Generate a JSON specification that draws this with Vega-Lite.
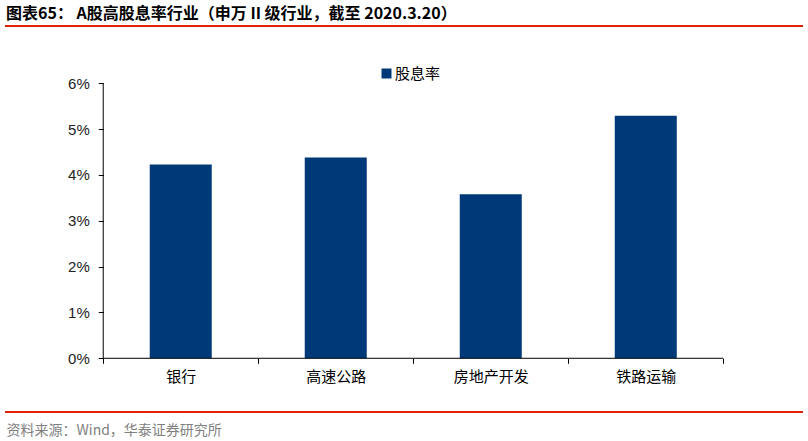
{
  "$schema": "https://vega.github.io/schema/vega-lite/v6.json",
  "width": 798,
  "height": 386,
  "autosize": {"type": "none"},
  "padding": {"left": 5, "top": 26, "right": 5, "bottom": 29},
  "background": "white",
  "title": {
    "text": "图表65： A股高股息率行业（申万 II 级行业，截至 2020.3.20）",
    "anchor": "start",
    "frame": "group",
    "offset": 4,
    "dx": 1,
    "font": "Noto Sans CJK SC",
    "fontSize": 16,
    "fontWeight": "bold",
    "color": "#000000"
  },
  "config": {
    "view": {"stroke": "#E2200C", "strokeWidth": 2, "strokeDash": [798, 386]}
  },
  "layer": [
    {
      "data": {
        "values": [
          {"industry": "银行", "yield": 0.0423},
          {"industry": "高速公路", "yield": 0.0438},
          {"industry": "房地产开发", "yield": 0.0358},
          {"industry": "铁路运输", "yield": 0.0529}
        ]
      },
      "mark": {"type": "bar", "width": {"band": 0.4}},
      "encoding": {
        "x": {
          "field": "industry",
          "type": "nominal",
          "sort": null,
          "scale": {"paddingInner": 0, "paddingOuter": 0.574, "align": 0.552},
          "axis": {
            "orient": "bottom",
            "offset": -53.7,
            "domain": false,
            "tickBand": "extent",
            "tickSize": 5,
            "tickColor": "#000000",
            "labelAngle": 0,
            "labelFont": "Noto Sans CJK SC",
            "labelFontSize": 15,
            "labelColor": "#000000",
            "labelPadding": 6,
            "title": "资料来源：Wind，华泰证券研究所",
            "titleX": 1,
            "titleY": 72,
            "titleAlign": "left",
            "titleAnchor": "start",
            "titleBaseline": "middle",
            "titleFont": "Noto Sans CJK SC",
            "titleFontSize": 14,
            "titleFontWeight": "normal",
            "titleColor": "#7F7F7F"
          }
        },
        "y": {
          "field": "yield",
          "type": "quantitative",
          "scale": {"domain": [-0.01172, 0.0725], "nice": false, "zero": false},
          "axis": {
            "orient": "left",
            "offset": -98.3,
            "domain": false,
            "grid": false,
            "values": [0, 0.01, 0.02, 0.03, 0.04, 0.05, 0.06],
            "format": ".0%",
            "tickSize": 5,
            "tickColor": "#000000",
            "labelFont": "Liberation Sans",
            "labelFontSize": 15,
            "labelColor": "#222222",
            "labelPadding": 9,
            "title": null
          }
        },
        "color": {
          "datum": "股息率",
          "type": "nominal",
          "scale": {"range": ["#003978"]},
          "legend": {
            "title": null,
            "orient": "none",
            "legendX": 374,
            "legendY": 40,
            "padding": 0,
            "symbolType": "square",
            "symbolSize": 100,
            "symbolStrokeWidth": 0,
            "labelFont": "Noto Sans CJK SC",
            "labelFontSize": 15,
            "labelColor": "#000000",
            "labelOffset": 1
          }
        }
      }
    },
    {
      "data": {"values": [{}]},
      "mark": {"type": "rule", "color": "#000000", "strokeWidth": 1},
      "encoding": {
        "x": {"datum": "银行", "type": "nominal", "bandPosition": 0},
        "y": {"datum": 0, "type": "quantitative"},
        "y2": {"datum": 0.06}
      }
    },
    {
      "data": {"values": [{}]},
      "mark": {"type": "rule", "color": "#000000", "strokeWidth": 1},
      "encoding": {
        "x": {"datum": "银行", "type": "nominal", "bandPosition": 0},
        "x2": {"datum": "铁路运输", "bandPosition": 1},
        "y": {"datum": 0, "type": "quantitative"}
      }
    }
  ]
}
